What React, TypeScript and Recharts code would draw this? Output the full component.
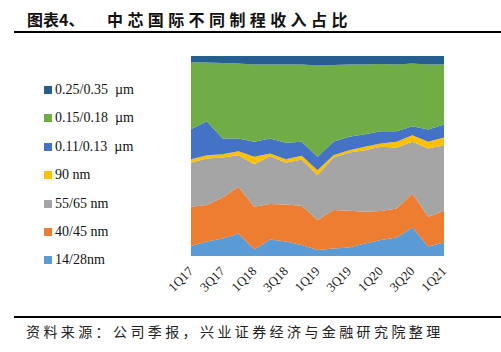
import React from 'react';
import { AreaChart, Area, XAxis, YAxis } from 'recharts';

// quarters 1Q17 .. 1Q21, share of revenue by process node (%)
const quarters = [
  '1Q17', '2Q17', '3Q17', '4Q17', '1Q18', '2Q18', '3Q18', '4Q18', '1Q19',
  '2Q19', '3Q19', '4Q19', '1Q20', '2Q20', '3Q20', '4Q20', '1Q21',
];
const nm14_28 = [5.0, 7.2, 8.8, 11.3, 3.3, 8.3, 7.2, 5.5, 3.0, 3.8, 4.2, 6.3, 8.0, 9.2, 14.3, 4.7, 6.8];
const nm40_45 = [19.6, 18.3, 20.5, 23.3, 21.3, 17.7, 18.6, 19.6, 15.0, 19.2, 18.4, 15.8, 14.5, 14.6, 17.0, 14.9, 15.8];
const nm55_65 = [22.0, 23.3, 20.0, 15.8, 21.3, 23.9, 20.8, 23.2, 22.4, 26.3, 29.1, 30.8, 32.1, 30.4, 25.8, 34.1, 32.8];
const nm90 = [1.8, 1.6, 1.6, 2.0, 3.7, 1.3, 1.8, 1.8, 2.5, 1.1, 1.2, 1.7, 1.6, 2.9, 3.3, 3.4, 3.8];
const um011_013 = [15.0, 17.0, 7.8, 6.3, 7.5, 7.5, 8.2, 7.0, 6.7, 6.7, 6.7, 6.3, 6.2, 5.3, 4.5, 6.1, 6.5];
const um015_018 = [33.6, 29.3, 37.8, 37.5, 38.7, 37.1, 39.2, 38.6, 45.7, 38.4, 36.1, 34.9, 33.6, 33.3, 31.3, 32.6, 30.1];
const um025_035 = [3.0, 3.3, 3.5, 3.8, 4.2, 4.2, 4.2, 4.3, 4.7, 4.5, 4.3, 4.2, 4.0, 4.3, 3.8, 4.2, 4.2];

// bottom to top
const series = [
  { key: 'a', name: '14/28nm', values: nm14_28, color: '#5B9BD5' },
  { key: 'b', name: '40/45 nm', values: nm40_45, color: '#ED7D31' },
  { key: 'c', name: '55/65 nm', values: nm55_65, color: '#A5A5A5' },
  { key: 'd', name: '90 nm', values: nm90, color: '#FFC000' },
  { key: 'e', name: '0.11/0.13  µm', values: um011_013, color: '#4472C4' },
  { key: 'f', name: '0.15/0.18  µm', values: um015_018, color: '#70AD47' },
  { key: 'g', name: '0.25/0.35  µm', values: um025_035, color: '#255E91' },
];

const data = quarters.map((q, i) => {
  const row: Record<string, string | number> = { q };
  series.forEach(s => { row[s.key] = s.values[i]; });
  return row;
});

const serif = '"Liberation Serif", "DejaVu Serif", serif';
const cjk = '"Noto Sans CJK SC", sans-serif';

// rotated quarter labels, ending just under the tick
function QuarterTick({ x, y, payload }: any) {
  const ax = x + 3;
  const ay = y + 8;
  return (
    <text
      x={ax}
      y={ay}
      transform={`rotate(-45, ${ax}, ${ay})`}
      textAnchor="end"
      fontSize={13}
      fontFamily={serif}
      fill="#222"
    >
      {payload.value}
    </text>
  );
}

export default function App() {
  return (
    <div style={{ position: 'absolute', left: 0, top: 0, width: 501, height: 352, background: '#fff', overflow: 'hidden' }}>
      <div style={{ position: 'absolute', left: 27, top: 7, fontFamily: cjk, fontWeight: 700, fontSize: 16, color: '#111', whiteSpace: 'nowrap' }}>
        图表4、
      </div>
      <div style={{ position: 'absolute', left: 107, top: 7, fontFamily: cjk, fontWeight: 700, fontSize: 16, letterSpacing: 4.4, color: '#111', whiteSpace: 'nowrap' }}>
        中芯国际不同制程收入占比
      </div>
      <div style={{ position: 'absolute', left: 14, top: 31, width: 487, height: 2, background: '#000' }} />

      {[...series].reverse().map((s, i) => (
        <div key={s.key} style={{ position: 'absolute', left: 44, top: 82 + i * 28.4, height: 16, display: 'flex', alignItems: 'center', whiteSpace: 'pre' }}>
          <span style={{ width: 8, height: 8, background: s.color, marginRight: 3 }} />
          <span style={{ fontFamily: serif, fontSize: 14, color: '#111' }}>{s.name}</span>
        </div>
      ))}

      <div style={{ position: 'absolute', left: 0, top: 0 }}>
        <AreaChart
          width={501}
          height={352}
          data={data}
          stackOffset="expand"
          margin={{ top: 56, left: 191, right: 57, bottom: 56 }}
        >
          <XAxis
            dataKey="q"
            interval={1}
            tickLine={false}
            axisLine={false}
            height={40}
            tick={<QuarterTick />}
          />
          <YAxis hide domain={[0, 1]} />
          {series.map(s => (
            <Area
              key={s.key}
              dataKey={s.key}
              name={s.name}
              stackId="1"
              type="linear"
              stroke="none"
              fill={s.color}
              fillOpacity={1}
              isAnimationActive={false}
            />
          ))}
        </AreaChart>
      </div>

      <div style={{ position: 'absolute', left: 14, top: 316, width: 487, height: 2, background: '#000' }} />
      <div style={{ position: 'absolute', left: 26, top: 321, fontFamily: cjk, fontSize: 14, letterSpacing: 3.4, color: '#222', whiteSpace: 'nowrap' }}>
        资料来源：公司季报，兴业证券经济与金融研究院整理
      </div>
    </div>
  );
}
